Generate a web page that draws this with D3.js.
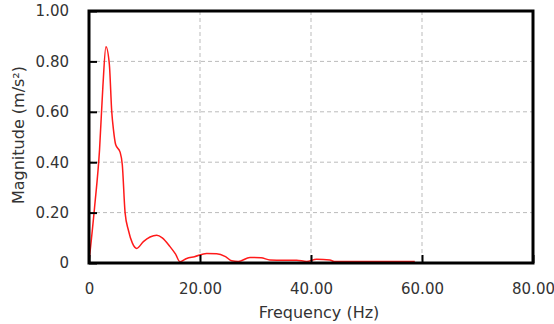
<!DOCTYPE html>
<html>
<head>
<meta charset="utf-8">
<script src="https://cdn.jsdelivr.net/npm/d3@7"></script>
<style>
  body { margin: 0; background: #fff; }
  text { font-family: "DejaVu Sans", sans-serif; fill: #333; }
</style>
</head>
<body>
<div id="chart"></div>
<script>
// spectrum
const freq = [0, 1, 1.9, 2.5, 3.05, 3.66, 4.1, 4.4, 4.8, 5.6, 6.0, 6.5, 7.1, 7.8, 8.6, 9.8, 11.0, 12.2, 13.2, 14.6, 15.6, 16.4,
              17.6, 19.0, 21.2, 23.0, 24.6, 25.7, 26.9, 29.0, 31.0, 32.6, 35.0, 37.4, 39.2, 41.0, 43.4, 44.2, 50, 58.7];
const magnitude = [0.005, 0.22, 0.45, 0.70, 0.858, 0.79, 0.6, 0.53, 0.47, 0.44, 0.39, 0.2, 0.13, 0.08, 0.058, 0.085, 0.103, 0.11, 0.1, 0.065, 0.035, 0.005,
                   0.018, 0.025, 0.038, 0.037, 0.025, 0.009, 0.006, 0.022, 0.021, 0.012, 0.011, 0.011, 0.006, 0.015, 0.012, 0.006, 0.006, 0.006];
const xTicks = [0, 20, 40, 60, 80];
const yTicks = [0, 0.2, 0.4, 0.6, 0.8, 1.0];

const margin = {top: 11, right: 21, bottom: 61, left: 89};
const width = 554 - margin.left - margin.right;
const height = 324 - margin.top - margin.bottom;

const svg = d3.select("#chart")
  .append("svg")
  .attr("width", 554)
  .attr("height", 324)
  .append("g")
  .attr("transform", `translate(${margin.left},${margin.top})`);

const x = d3.scaleLinear().domain([0, 80]).range([0, width]);
const y = d3.scaleLinear().domain([0, 1]).range([height, 0]);

// dashed grid
svg.append("g")
  .selectAll("line")
  .data(xTicks.slice(1, -1))
  .enter().append("line")
  .attr("x1", d => x(d)).attr("x2", d => x(d))
  .attr("y1", 0).attr("y2", height)
  .attr("stroke", "#bbb")
  .attr("stroke-dasharray", "4,3");
svg.append("g")
  .selectAll("line")
  .data(yTicks.slice(1, -1))
  .enter().append("line")
  .attr("y1", d => y(d)).attr("y2", d => y(d))
  .attr("x1", 0).attr("x2", width)
  .attr("stroke", "#bbb")
  .attr("stroke-dasharray", "4,3");

// curve
const line = d3.line()
  .x((d, i) => x(freq[i]))
  .y(d => y(d))
  .curve(d3.curveMonotoneX);
svg.append("path")
  .datum(magnitude)
  .attr("fill", "none")
  .attr("stroke", "#ff1a1a")
  .attr("stroke-width", 1.5)
  .attr("d", line);

// axes with inward ticks
const xAxis = svg.append("g")
  .attr("transform", `translate(0,${height})`)
  .call(d3.axisBottom(x).tickValues(xTicks).tickSize(-8).tickPadding(20)
    .tickFormat(d => d === 0 ? "0" : d3.format(".2f")(d)));
const yAxis = svg.append("g")
  .call(d3.axisLeft(y).tickValues(yTicks).tickSize(-8).tickPadding(20)
    .tickFormat(d => d === 0 ? "0" : d3.format(".2f")(d)));
[xAxis, yAxis].forEach(a => {
  a.select(".domain").remove();
  a.selectAll(".tick line").attr("stroke", "#000").attr("stroke-width", 2);
  a.selectAll("text").style("font-size", "15px").style("font-family", "DejaVu Sans").attr("fill", "#333");
});

// frame
svg.append("rect")
  .attr("width", width)
  .attr("height", height)
  .attr("fill", "none")
  .attr("stroke", "#000")
  .attr("stroke-width", 3);

// axis titles
svg.append("text")
  .attr("x", width / 2 + 8)
  .attr("y", height + 55)
  .style("text-anchor", "middle")
  .style("font-size", "16px")
  .text("Frequency (Hz)");
svg.append("text")
  .attr("transform", "rotate(-90)")
  .attr("x", -height / 2 + 2)
  .attr("y", -65)
  .style("text-anchor", "middle")
  .style("font-size", "16px")
  .text("Magnitude (m/s²)");
</script>
</body>
</html>
